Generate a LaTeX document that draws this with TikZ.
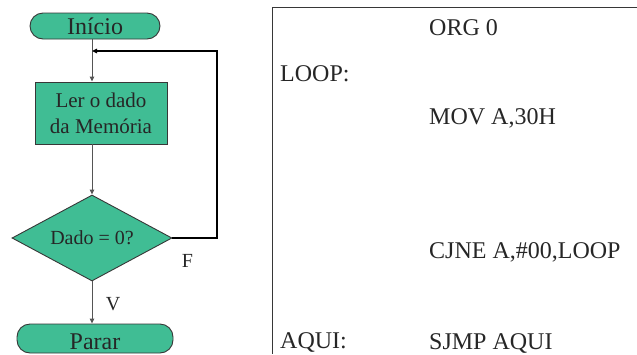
\documentclass[tikz,border=0pt]{standalone}
\usepackage{fontspec}
\setmainfont{Liberation Serif}
\usetikzlibrary{shapes.geometric,arrows.meta}
\definecolor{flowgreen}{RGB}{64,189,148}
\definecolor{edgegray}{RGB}{55,55,55}
\definecolor{linegray}{RGB}{85,85,85}
\tikzset{
  terminal/.style={draw=edgegray, line width=0.9pt, fill=flowgreen, rounded corners=13pt,
    inner sep=0pt, font=\fontsize{24}{28}\selectfont, text=black!85},
  procbox/.style={draw=edgegray, line width=0.9pt, fill=flowgreen, inner sep=0pt,
    minimum width=132pt, minimum height=62pt, align=center,
    font=\fontsize{21}{26}\selectfont, text=black!85},
  decision/.style={draw=edgegray, line width=0.9pt, fill=flowgreen, shape=diamond, inner sep=0pt,
    aspect=1.86, minimum width=160pt, minimum height=86pt, font=\fontsize{20}{24}\selectfont, text=black!85},
  conn/.style={draw=linegray, line width=0.9pt, -{Triangle[length=5pt,width=4.5pt]}},
  backconn/.style={draw=black, line width=1.4pt, -{Triangle[length=5pt,width=4.5pt]}},
  lbl/.style={anchor=base, inner sep=0pt, font=\fontsize{20}{24}\selectfont, text=black!85},
  code/.style={anchor=base west, inner sep=0pt, font=\fontsize{24}{28}\selectfont, text=black!85},
  panel/.style={draw=edgegray, line width=1pt}
}
\begin{document}
\begin{tikzpicture}[x=1pt,y=-1pt]
\useasboundingbox (0,0) rectangle (637,354);
% flowchart
\node[terminal, minimum width=130pt, minimum height=26pt, text height=16.6pt, text depth=0pt] (start) at (95,26) {Início};
\node[procbox] (read) at (101,113) {Ler o dado\\da Memória};
\node[decision] (dec) at (92,238) {\raisebox{-1.5pt}{Dado = 0?}};
\node[terminal, minimum width=156pt, minimum height=29pt, text height=21pt, text depth=0pt] (stop) at (95,338.5) {Parar};
\coordinate (col) at (92,0);
\coordinate (fbtop) at (217,51);
\coordinate (join) at (92,51);
\draw[conn] (start.south -| col) -- (read.north -| col);
\draw[conn] (read.south -| col) -- (dec.north);
\draw[conn] (dec.south) -- (stop.north -| col);
\draw[backconn] (dec.east) -| (fbtop) -- (join);
\node[lbl] (flab) at (187.5,267) {F};
\node[lbl] (vlab) at (113,310) {V};
% code panel
\coordinate (ptr) at (637,7.5);
\coordinate (ptl) at (272,7.5);
\coordinate (pbl) at (272,354);
\draw[panel] (ptr) -- (ptl) -- (pbl);
\node[code] (org) at (429,35) {ORG 0};
\node[code] (loop) at (280,81) {LOOP:};
\node[code] (mov) at (429,124) {MOV A,30H};
\node[code] (cjne) at (429,258) {CJNE A,\#00,LOOP};
\node[code] (aqui) at (280,348) {AQUI:};
\node[code] (sjmp) at (429,349) {SJMP AQUI};
\end{tikzpicture}
\end{document}
